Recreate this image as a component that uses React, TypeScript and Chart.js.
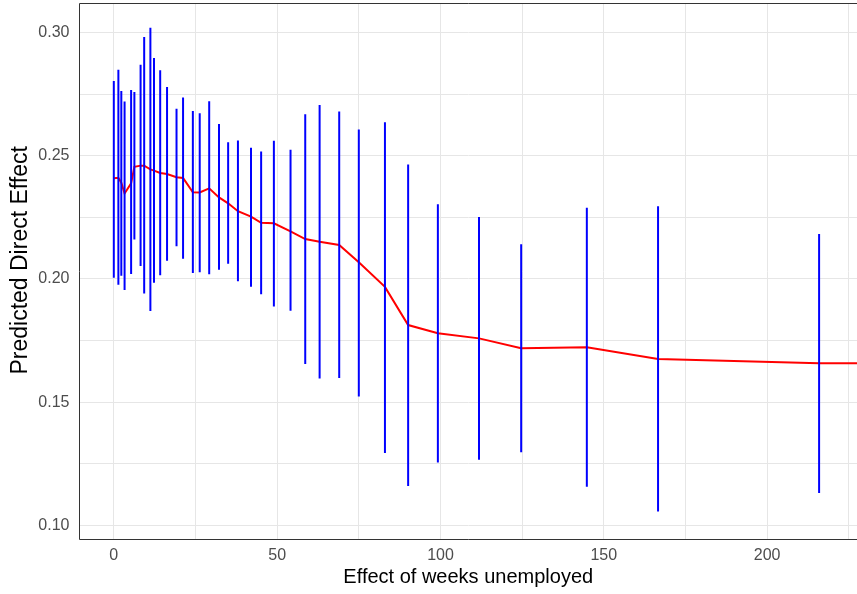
import React, { useEffect, useRef } from "react";
import { Chart, registerables } from "chart.js";

Chart.register(...registerables);

// Weeks unemployed (x positions of each estimate)
const weeks = [
  0, 1.4, 2.3, 3.3, 5.3, 6.3, 8.2, 9.3, 11.2, 12.3, 14.2, 16.3, 19.2, 21.2, 24.2, 26.3,
  29.2, 32.2, 35.0, 38.0, 42.0, 45.1, 49.0, 54.1, 58.6, 63.0, 69.0, 75.0, 83.0, 90.1,
  99.2, 111.8, 124.7, 144.8, 166.6, 215.9, 245,
];
// Predicted direct effect (point estimate)
const estimate = [
  0.2409, 0.2411, 0.2391, 0.2347, 0.2388, 0.2455, 0.246, 0.246, 0.2445, 0.244, 0.243,
  0.2426, 0.2413, 0.241, 0.2352, 0.2351, 0.2368, 0.2331, 0.2307, 0.2275, 0.2253, 0.2228,
  0.2226, 0.2193, 0.2162, 0.2151, 0.2138, 0.2068, 0.1968, 0.1813, 0.178, 0.1759, 0.1719,
  0.1723, 0.1675, 0.1658, 0.1657,
];
// Lower bound of the interval
const lower = [
  0.2005, 0.1977, 0.2013, 0.1955, 0.202, 0.216, 0.2053, 0.1941, 0.187, 0.1985, 0.2015,
  0.2074, 0.2133, 0.2082, 0.2024, 0.2027, 0.2019, 0.2037, 0.2062, 0.1991, 0.1968, 0.1938,
  0.1888, 0.1871, 0.1655, 0.1596, 0.1598, 0.1523, 0.1294, 0.116, 0.1255, 0.1266, 0.1297,
  0.1157, 0.1056, 0.1131, 0.105,
];
// Upper bound of the interval
const upper = [
  0.2803, 0.2849, 0.2763, 0.272, 0.2767, 0.2759, 0.2869, 0.2982, 0.302, 0.2897, 0.2847,
  0.2779, 0.2691, 0.2737, 0.2682, 0.2673, 0.2721, 0.2629, 0.2555, 0.2562, 0.2533, 0.2517,
  0.2561, 0.2525, 0.2669, 0.2706, 0.268, 0.2607, 0.2636, 0.2465, 0.2303, 0.2252, 0.2141,
  0.2289, 0.2295, 0.2183, 0.2265,
];

const xGridValues = [0, 25, 50, 75, 100, 125, 150, 175, 200, 225];
const xLabelValues = [0, 50, 100, 150, 200];
const yGridValues = [0.1, 0.125, 0.15, 0.175, 0.2, 0.225, 0.25, 0.275, 0.3];
const yLabelValues = [0.1, 0.15, 0.2, 0.25, 0.3];

const xTitle = "Effect of weeks unemployed";
const yTitle = "Predicted Direct Effect";

const X_MIN = -10.5;
const X_MAX = 227.5;
const Y_MIN = 0.0946;
const Y_MAX = 0.3116;

const FONT = "'Liberation Sans', Arial, Helvetica, sans-serif";

const framePlugin = {
  id: "frame",
  afterDraw(chart: any) {
    const { ctx, chartArea } = chart;
    ctx.save();
    ctx.strokeStyle = "#333333";
    ctx.lineWidth = 1;
    ctx.beginPath();
    ctx.moveTo(chartArea.right + 2, Math.round(chartArea.top) - 0.5);
    ctx.lineTo(Math.round(chartArea.left) - 0.5, Math.round(chartArea.top) - 0.5);
    ctx.lineTo(Math.round(chartArea.left) - 0.5, Math.round(chartArea.bottom) + 0.5);
    ctx.lineTo(chartArea.right + 2, Math.round(chartArea.bottom) + 0.5);
    ctx.stroke();

    // y-axis title
    const cy = (chartArea.top + chartArea.bottom) / 2 - 11;
    ctx.translate(20.5, cy);
    ctx.rotate(-Math.PI / 2);
    ctx.fillStyle = "#000000";
    ctx.font = `23px ${FONT}`;
    ctx.textAlign = "center";
    ctx.textBaseline = "middle";
    ctx.fillText(yTitle, 0, 0);
    ctx.restore();
  },
};

export default function App() {
  const ref = useRef<HTMLCanvasElement | null>(null);

  useEffect(() => {
    if (!ref.current) return;
    const errData: any[] = [];
    weeks.forEach((w, i) => {
      errData.push({ x: w, y: lower[i] });
      errData.push({ x: w, y: upper[i] });
      errData.push({ x: w, y: null });
    });
    const lineData = weeks.map((w, i) => ({ x: w, y: estimate[i] }));

    const chart = new Chart(ref.current, {
      type: "line",
      data: {
        datasets: [
          {
            label: "interval",
            data: errData,
            borderColor: "#0000FF",
            borderWidth: 2,
            pointRadius: 0,
            spanGaps: false,
            tension: 0,
            order: 0,
          },
          {
            label: "estimate",
            data: lineData,
            borderColor: "#FF0000",
            borderWidth: 2,
            pointRadius: 0,
            tension: 0,
            order: 1,
          },
        ],
      },
      options: {
        animation: false,
        responsive: true,
        maintainAspectRatio: false,
        layout: { padding: { top: 4, right: 0, bottom: 0, left: 0 } },
        plugins: {
          legend: { display: false },
          tooltip: { enabled: false },
        },
        scales: {
          x: {
            type: "linear",
            min: X_MIN,
            max: X_MAX,
            afterBuildTicks: (scale: any) => {
              scale.ticks = xGridValues.map((v) => ({ value: v }));
            },
            afterFit: (scale: any) => {
              scale.height = 55.3;
              scale.paddingLeft = 0;
              scale.paddingRight = 0;
            },
            grid: { color: "#e6e6e6", lineWidth: 1, drawTicks: false },
            border: { display: false },
            ticks: {
              autoSkip: false,
              maxRotation: 0,
              padding: 7,
              color: "#4d4d4d",
              font: { family: FONT, size: 16 },
              callback: (v: any) => (xLabelValues.includes(Number(v)) ? String(v) : ""),
            },
            title: {
              display: true,
              text: xTitle,
              color: "#000000",
              font: { family: FONT, size: 20 },
              padding: { top: 0, bottom: 5 },
            },
          },
          y: {
            type: "linear",
            min: Y_MIN,
            max: Y_MAX,
            afterBuildTicks: (scale: any) => {
              scale.ticks = yGridValues.map((v) => ({ value: v }));
            },
            afterFit: (scale: any) => {
              scale.width = 79.5;
              scale.paddingTop = 0;
              scale.paddingBottom = 0;
            },
            grid: { color: "#e6e6e6", lineWidth: 1, drawTicks: false },
            border: { display: false },
            ticks: {
              autoSkip: false,
              padding: 10,
              color: "#4d4d4d",
              font: { family: FONT, size: 16 },
              callback: (v: any) => {
                const n = Number(v);
                return yLabelValues.some((t) => Math.abs(t - n) < 1e-9) ? n.toFixed(2) : "";
              },
            },
            title: { display: false },
          },
        },
      },
      plugins: [framePlugin],
    });
    return () => chart.destroy();
  }, []);

  return (
    <div
      style={{
        position: "absolute",
        left: 0,
        top: 0,
        width: 857,
        height: 594,
        background: "#ffffff",
        overflow: "hidden",
      }}
    >
      <canvas ref={ref} />
    </div>
  );
}
